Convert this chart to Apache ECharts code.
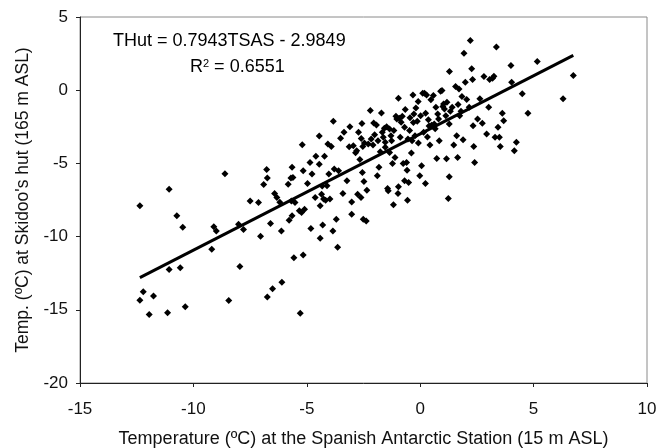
<!DOCTYPE html>
<html>
<head>
<meta charset="utf-8">
<script src="https://cdn.jsdelivr.net/npm/echarts@6/dist/echarts.min.js"></script>
<style>
  html, body { margin: 0; padding: 0; background: #fff; }
  #chart { width: 667px; height: 448px; }
</style>
</head>
<body>
<div id="chart"></div>
<script>
// temperature at the Spanish Antarctic Station (x) vs Skidoo's hut (y)
var tsas = [
  -12.36, -12.36, -12.21, -11.95, -11.76, -11.14, -11.07, -11.07, -10.73, -10.58,
  -10.47, -10.36, -9.19, -9.10, -8.99, -8.61, -8.44, -8.01, -7.95, -7.79,
  -7.50, -7.13, -7.04, -6.90, -6.77, -6.74, -6.74, -6.60, -6.51, -6.42,
  -6.32, -6.19, -6.12, -6.10, -5.82, -5.78, -5.70, -5.65, -5.61, -5.68,
  -5.65, -5.57, -5.52, -5.33, -5.29, -5.23, -5.20, -5.16, -5.16, -5.10,
  -4.97, -4.86, -4.82, -4.77, -4.63, -4.60, -4.45, -4.45, -4.41, -4.41,
  -4.35, -4.32, -4.30, -4.26, -4.22, -4.17, -4.11, -4.07, -4.03, -3.98,
  -3.92, -3.85, -3.83, -3.79, -3.70, -3.64, -3.60, -3.51, -3.41, -3.36,
  -3.23, -3.13, -3.02, -3.02, -2.95, -2.85, -2.80, -2.76, -2.72, -2.66,
  -2.61, -2.57, -2.55, -2.53, -2.51, -2.48, -2.46, -2.38, -2.35, -2.29,
  -2.20, -2.16, -2.08, -2.05, -2.01, -1.93, -1.89, -1.86, -1.82, -1.76,
  -1.71, -1.67, -1.63, -1.58, -1.54, -1.48, -1.44, -1.41, -1.35, -1.29,
  -1.26, -1.22, -1.18, -1.16, -1.11, -1.07, -1.03, -0.98, -0.96, -0.96,
  -0.92, -0.88, -0.84, -0.79, -0.75, -0.69, -0.69, -0.66, -0.60, -0.58,
  -0.56, -0.54, -0.51, -0.47, -0.45, -0.39, -0.36, -0.32, -0.28, -0.23,
  -0.19, -0.13, -0.09, -0.08, -0.02, 0.02, 0.06, 0.11, 0.15, 0.19,
  0.23, 0.24, 0.28, 0.32, 0.36, 0.39, 0.43, 0.47, 0.53, 0.58,
  0.62, 0.66, 0.69, 0.73, 0.77, 0.81, 0.84, 0.90, 0.96, 1.00,
  1.03, 1.07, 1.13, 1.16, 1.18, 1.24, 1.28, 1.28, 1.29, 1.33,
  1.41, 1.48, 1.56, 1.61, 1.65, 1.67, 1.71, 1.74, 1.80, 1.84,
  1.89, 1.93, 1.99, 2.05, 2.16, 2.21, 2.27, 2.31, 2.33, 2.36,
  2.40, 2.53, 2.63, 2.74, 2.81, 2.93, 3.02, 3.06, 3.19, 3.25,
  3.30, 3.36, 3.43, 3.49, 3.53, 3.62, 3.68, 4.00, 4.03, 4.15,
  4.24, 4.50, 4.75, 5.16, 6.30, 6.75,
  -1.54, -1.35, -3.10, -2.60, -0.30, 0.50
];
var thut = [
  -7.90, -14.34, -13.77, -15.32, -14.06, -15.21, -6.76, -12.24, -8.58, -12.12,
  -9.36, -14.79, -10.87, -9.32, -9.61, -5.71, -14.36, -9.16, -12.05, -9.52,
  -7.56, -7.67, -9.98, -6.44, -5.41, -6.00, -14.13, -9.11, -13.56, -7.05,
  -7.33, -7.65, -9.61, -13.11, -6.42, -8.88, -6.00, -5.27, -5.96, -7.56,
  -8.58, -11.44, -7.67, -8.24, -15.23, -8.36, -3.72, -11.26, -5.50, -8.13,
  -6.37, -4.93, -9.45, -5.73, -7.33, -4.52, -3.13, -5.05, -7.90, -10.11,
  -7.10, -6.55, -9.20, -7.44, -4.52, -7.51, -6.53, -3.68, -5.73, -7.44,
  -3.84, -9.61, -2.12, -5.39, -8.81, -10.73, -5.50, -3.29, -7.05, -2.88,
  -6.19, -3.86, -8.47, -7.63, -3.79, -4.27, -4.13, -7.10, -2.88, -4.73,
  -7.33, -2.28, -5.62, -3.84, -8.81, -6.23, -3.61, -8.93, -6.83, -3.68,
  -1.39, -3.33, -3.74, -2.24, -3.04, -2.37, -5.84, -3.45, -5.27, -4.20,
  -1.55, -2.88, -3.22, -2.60, -3.90, -2.49, -6.71, -6.87, -4.25, -3.11,
  -3.45, -5.00, -7.83, -2.76, -4.59, -1.78, -1.96, -7.05, -0.55, -6.60,
  -1.92, -3.22, -2.19, -1.78, -5.00, -6.19, -2.53, -1.32, -4.93, -5.46,
  -7.51, -3.33, -6.30, -2.76, -1.89, -4.29, -3.45, -0.32, -1.62, -3.11,
  -1.21, -2.12, -0.78, -3.61, -5.84, -1.74, -5.16, -0.21, -2.88, -0.21,
  -6.37, -1.58, -0.32, -3.20, -2.01, -2.44, -3.74, -0.66, -2.42, -0.37,
  -2.31, -2.63, -1.16, -4.66, -1.62, -1.96, -3.45, -0.07, -0.02, -1.12,
  -0.94, -1.28, -1.74, -4.68, -0.82, -7.40, -2.31, -5.91, 1.28, -1.44,
  -1.16, -3.74, 0.25, -3.11, -4.59, -0.98, 0.09, -1.74, -1.44, -0.43,
  -3.38, 2.53, 0.55, -0.64, -1.16, 3.40, 1.46, 0.73, -2.42, -3.84,
  -4.93, -1.96, -0.59, -2.26, 0.94, -2.99, -1.16, 0.73, 0.82, 0.96,
  -3.22, 2.95, -2.53, -3.22, -3.84, -1.58, -2.08, 1.69, 0.55, -4.13,
  -3.56, -0.25, -1.58, 1.96, -0.59, 1.00,
  -3.56, -2.65, -2.50, -3.30, -2.20, -2.40
];
var xTicks = [-15, -10, -5, 0, 5, 10];
var yTicks = [-20, -15, -10, -5, 0, 5];
var slope = 0.7943;
var intercept = -2.9849;
var r2 = 0.6551;

var points = tsas.map(function (x, i) { return [x, thut[i]]; });
var xMin = Math.min.apply(null, tsas);
var xMax = Math.max.apply(null, tsas);
var fitLine = [
  [xMin, slope * xMin + intercept],
  [xMax, slope * xMax + intercept]
];

var chart = echarts.init(document.getElementById('chart'), null, { renderer: 'canvas' });
var font = '"Liberation Sans", Arial, sans-serif';

chart.setOption({
  animation: false,
  backgroundColor: '#fff',
  grid: {
    left: 80, right: 20, top: 17, bottom: 65,
    outerBoundsMode: 'none',
    containLabel: false,
    show: true,
    borderColor: '#8a8a8a',
    borderWidth: 1
  },
  xAxis: {
    type: 'value',
    min: xTicks[0],
    max: xTicks[xTicks.length - 1],
    interval: 5,
    name: 'Temperature (ºC) at the Spanish Antarctic Station (15 m ASL)',
    nameLocation: 'middle',
    nameGap: 47,
    nameTextStyle: { fontFamily: font, fontSize: 18, color: '#111' },
    axisLine: { onZero: false, lineStyle: { color: '#222', width: 1 } },
    axisTick: { show: true, length: 4, lineStyle: { color: '#222' } },
    axisLabel: { fontFamily: font, fontSize: 17, color: '#111', margin: 18 },
    splitLine: { show: false }
  },
  yAxis: {
    type: 'value',
    min: yTicks[0],
    max: yTicks[yTicks.length - 1],
    interval: 5,
    name: "Temp. (ºC) at Skidoo's hut (165 m ASL)",
    nameLocation: 'middle',
    nameGap: 47,
    nameTextStyle: { fontFamily: font, fontSize: 17.5, color: '#111' },
    axisLine: { onZero: false, lineStyle: { color: '#222', width: 1 } },
    axisTick: { show: true, length: 4, lineStyle: { color: '#222' } },
    axisLabel: { fontFamily: font, fontSize: 17, color: '#111', margin: 12 },
    splitLine: { show: false }
  },
  series: [
    {
      name: 'obs',
      type: 'scatter',
      symbol: 'diamond',
      symbolSize: 7,
      itemStyle: { color: '#000', opacity: 1 },
      data: points
    },
    {
      name: 'fit',
      type: 'line',
      symbol: 'none',
      lineStyle: { color: '#000', width: 3 },
      data: fitLine
    }
  ],
  graphic: [
    {
      type: 'text',
      left: 113,
      top: 32,
      style: {
        text: 'THut = ' + slope + 'TSAS - ' + Math.abs(intercept),
        font: '18px ' + font,
        fill: '#000'
      }
    },
    {
      type: 'text',
      left: 190,
      top: 58,
      style: {
        text: 'R{sup|2} = ' + r2,
        font: '18px ' + font,
        fill: '#000',
        rich: {
          sup: { fontSize: 11, fontFamily: font, verticalAlign: 'top', padding: [0, 0, 8, 0] }
        }
      }
    }
  ]
});
</script>
</body>
</html>
